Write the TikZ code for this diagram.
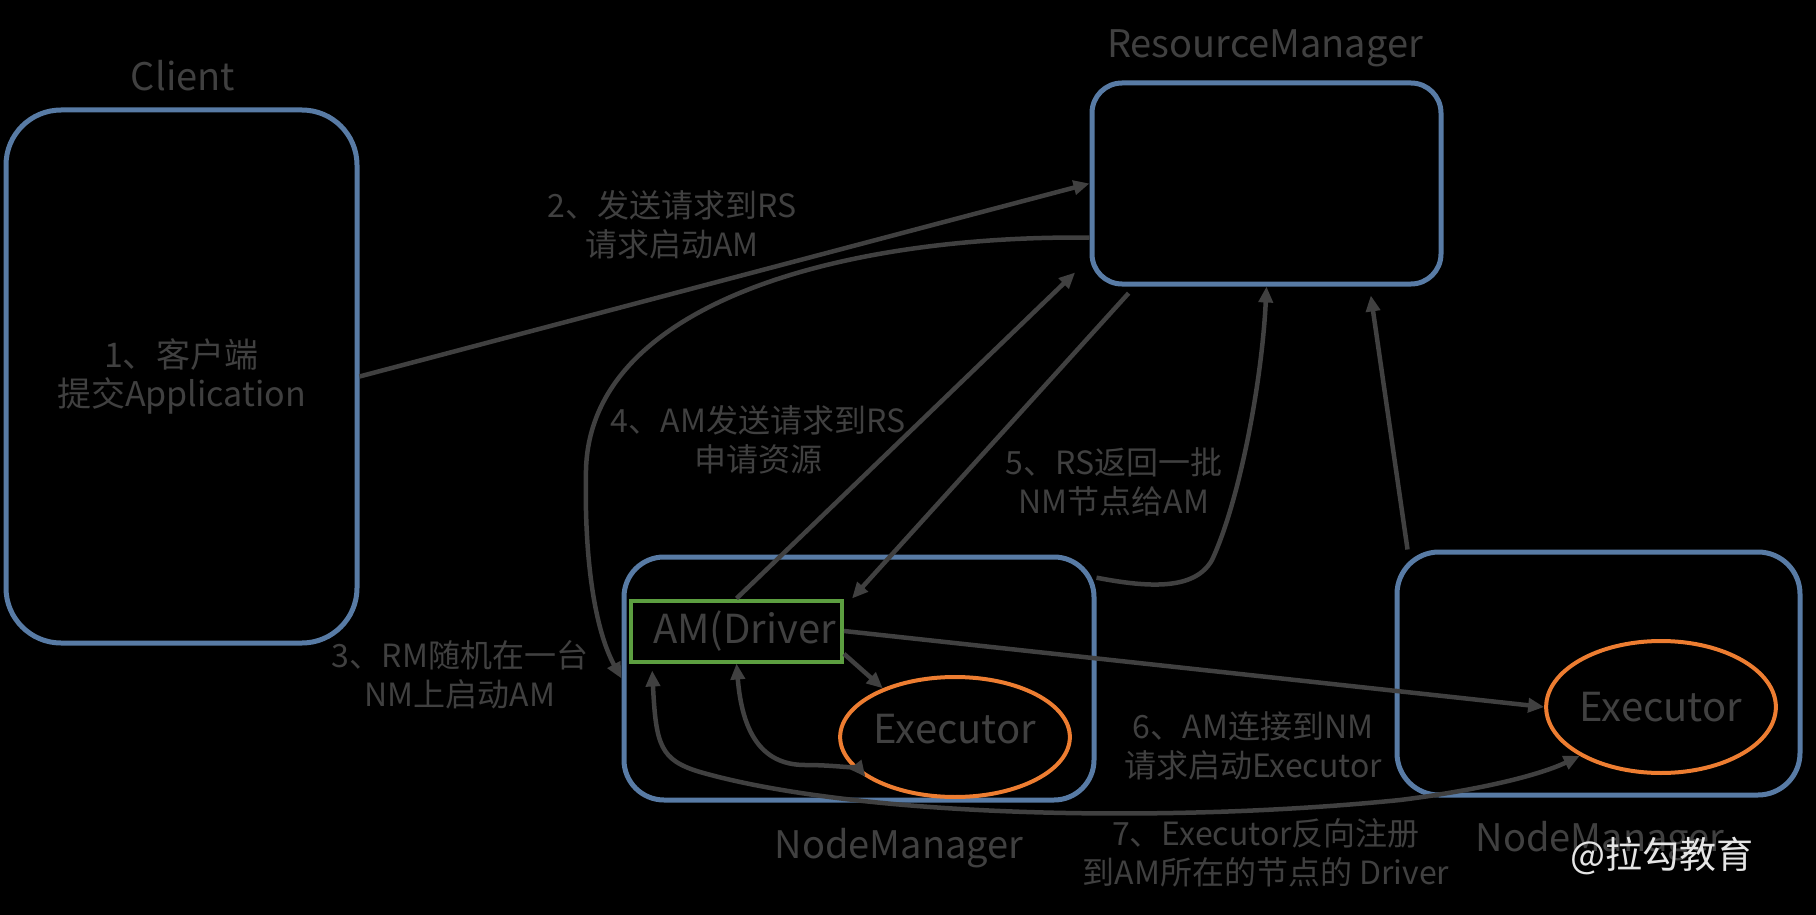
\documentclass[tikz,border=0pt]{standalone}
\usepackage{fontspec}
\setmainfont{Noto Sans CJK SC}
\usetikzlibrary{arrows.meta,shapes.geometric}
\definecolor{boxblue}{RGB}{88,123,165}
\definecolor{amgreen}{RGB}{92,158,64}
\definecolor{exorange}{RGB}{237,125,49}
\definecolor{txtgray}{RGB}{64,64,64}

\begin{document}
\begin{tikzpicture}[x=1pt,y=-1pt,
	nmbox/.style={draw=boxblue, line width=5pt, inner sep=0pt, text=txtgray},
	exec/.style={ellipse, draw=exorange, line width=4pt, inner sep=0pt, text=txtgray, font=\fontsize{40}{40}\selectfont},
	title/.style={text=txtgray, anchor=base, font=\fontsize{38}{38}\selectfont},
	lbl/.style={text=txtgray, align=center, font=\fontsize{32}{39}\selectfont},
	arr/.style={draw=txtgray, line width=4.5pt, -{Triangle[length=16pt,width=14pt]}},
	arrs/.style={draw=txtgray, line width=4.5pt, {Triangle[length=16pt,width=14pt]}-{Triangle[length=16pt,width=14pt]}}]
			%%%%% START %%%%%
			
			\fill[black] (0,0) rectangle (1816,915);
			\useasboundingbox (0,0) rectangle (1816,915);
			
			\node[nmbox, rounded corners=55pt, minimum width=351pt, minimum height=533pt, align=center, font=\fontsize{34}{39}\selectfont] (client) at (181.5,376.5) {1、客户端\\提交Application};
			\node[title] (clientT) at (183,91) {Client};
			
			\node[nmbox, rounded corners=30pt, minimum width=349pt, minimum height=201pt] (rm) at (1266.5,183.5) {};
			\node[title] (rmT) at (1265,58) {ResourceManager};
			
			\node[nmbox, rounded corners=40pt, minimum width=470pt, minimum height=243pt] (nm1) at (859,678.5) {};
			\node[title] (nm1T) at (899,858) {NodeManager};
			
			\node[nmbox, rounded corners=42pt, minimum width=403pt, minimum height=243pt] (nm2) at (1598.5,673.5) {};
			\node[title] (nm2T) at (1600,851) {NodeManager};
			
			\node[draw=amgreen, line width=4pt, minimum width=211pt, minimum height=61pt, inner sep=0pt, text=txtgray, font=\fontsize{40}{40}\selectfont] (am) at (736.5,631) {\hspace*{16pt}AM(Driver};
			\node[exec, minimum width=226pt, minimum height=120pt] (ex1) at (955,737) {\raisebox{-6pt}[0pt][0pt]{Executor}};
			\node[exec, minimum width=226pt, minimum height=132pt] (ex2) at (1661,707) {Executor};
			
			\node[lbl] (l2) at (672,225) {2、发送请求到RS\\请求启动AM};
			\node[lbl] (l3) at (460,675) {3、RM随机在一台\\NM上启动AM};
			\node[lbl] (l4) at (758,440) {4、AM发送请求到RS\\申请资源};
			\node[lbl] (l5) at (1114,482) {5、RS返回一批\\NM节点给AM};
			\node[lbl] (l6) at (1253,746) {6、AM连接到NM\\请求启动Executor};
			\node[lbl] (l7) at (1266,853) {7、Executor反向注册\\到AM所在的节点的 Driver};
			
			% arrows
			\draw[arr] (client.east) -- (rm.west);
			\draw[arr] (rm.197) .. controls (850,235) and (590,300) .. (586,470) .. controls (584,560) and (595,630) .. (nm1.west);
			\draw[arr, shorten >=20pt] (am.north) -- (rm.203);
			\draw[arr, shorten <=9pt] (rm.218) -- ([xshift=8pt]am.north east);
			\draw[arr] (nm1.23) .. controls (1150,588) and (1195,590) .. (1212,560) .. controls (1240,500) and (1262,380) .. (rm.south);
			\draw[arr, shorten >=9pt] (nm2.147) -- (rm.-45);
			\draw[arr] (am.east) -- (ex2.west);
			\draw[arr] (am.-12) -- (ex1.146);
			\draw[arrs] (am.south) .. controls (742,730) and (760,765) .. (805,765) .. controls (840,765) and (860,770) .. (ex1.204);
			\draw[arrs, shorten <=7pt] (am.201) .. controls (656,745) and (660,760) .. (700,772) .. controls (850,815) and (1150,825) .. (1400,800) .. controls (1480,790) and (1540,775) .. (ex2.211);
			
			\node[text=white!90!black, font=\fontsize{37}{37}\selectfont] (logo) at (1662,856) {@拉勾教育};
			
			%%%%% END %%%%%
\end{tikzpicture}
\end{document}
